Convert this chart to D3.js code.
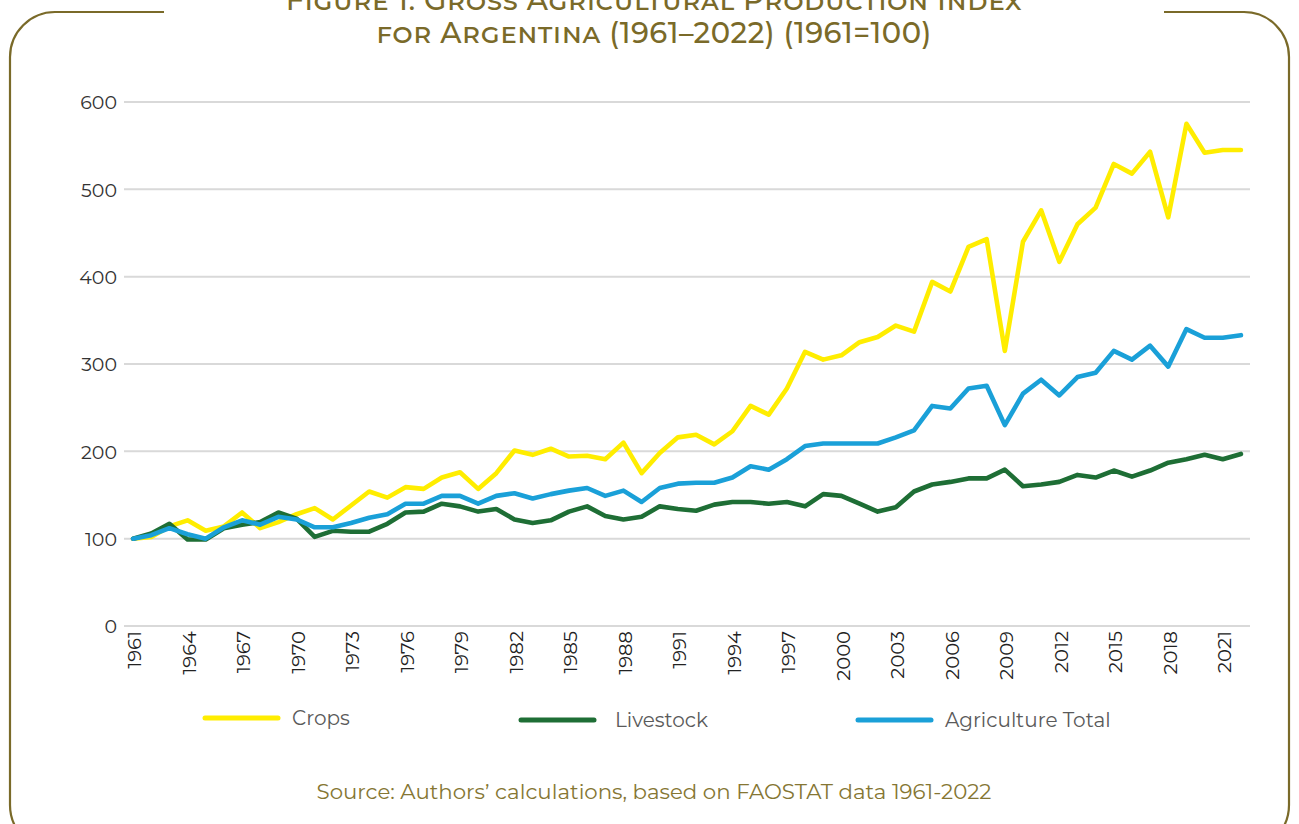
<!DOCTYPE html>
<html>
<head>
<meta charset="utf-8">
<script src="https://cdn.jsdelivr.net/npm/d3@7"></script>
<style>
  html, body { margin: 0; padding: 0; background: #ffffff; }
  svg { display: block; }
</style>
</head>
<body>
<svg id="chart" width="1299" height="824"></svg>
<script>
// Gross Agricultural Production Index, Argentina, 1961=100
const years = d3.range(1961, 2023);

const crops = [
  100, 102, 114, 121, 109, 114, 130, 112, 119, 128,
  135, 122, 138, 154, 147, 159, 157, 170, 176, 157,
  175, 201, 196, 203, 194, 195, 191, 210, 175, 198,
  216, 219, 208, 223, 252, 242, 272, 314, 305, 310,
  325, 331, 344, 337, 394, 383, 434, 443, 315, 440,
  476, 417, 460, 479, 529, 518, 543, 468, 575, 542,
  545, 545
];

const livestock = [
  100, 106, 117, 99, 99, 112, 116, 119, 130, 123,
  102, 109, 108, 108, 117, 130, 131, 140, 137, 131,
  134, 122, 118, 121, 131, 137, 126, 122, 125, 137,
  134, 132, 139, 142, 142, 140, 142, 137, 151, 149,
  140, 131, 136, 154, 162, 165, 169, 169, 179, 160,
  162, 165, 173, 170, 178, 171, 178, 187, 191, 196,
  191, 197
];

const agriTotal = [
  100, 104, 112, 105, 100, 113, 121, 116, 125, 122,
  113, 113, 118, 124, 128, 140, 140, 149, 149, 140,
  149, 152, 146, 151, 155, 158, 149, 155, 142, 158,
  163, 164, 164, 170, 183, 179, 191, 206, 209, 209,
  209, 209, 216, 224, 252, 249, 272, 275, 230, 266,
  282, 264, 285, 290, 315, 305, 321, 297, 340, 330,
  330, 333
];

const yTicks = [0, 100, 200, 300, 400, 500, 600];
const xTickYears = d3.range(1961, 2023, 3);

const seriesNames = ["Crops", "Livestock", "Agriculture Total"];
const seriesColors = ["#ffed00", "#1e6e35", "#1aa0d8"];

const titleLines = [
  "Figure 1. Gross Agricultural Production Index",
  "for Argentina (1961–2022) (1961=100)"
];
const sourceText = "Source: Authors’ calculations, based on FAOSTAT data 1961-2022";

const olive = "#7a6a29";
const font = "Montserrat, 'Open Sans', 'Noto Sans', sans-serif";

const svg = d3.select("#chart");

// Rounded frame around the figure, open at the top for the title
svg.append("rect")
  .attr("x", 10).attr("y", 12)
  .attr("width", 1279).attr("height", 838)
  .attr("rx", 45).attr("ry", 45)
  .attr("fill", "none")
  .attr("stroke", olive)
  .attr("stroke-width", 2.2);

svg.append("rect")
  .attr("x", 164).attr("y", 0)
  .attr("width", 1000).attr("height", 30)
  .attr("fill", "#ffffff");

// Title
const title = svg.append("text")
  .attr("text-anchor", "middle")
  .attr("fill", olive)
  .style("font-family", font)
  .style("font-size", "29px")
  .style("font-weight", 500)
  .style("font-variant", "small-caps")
  .style("letter-spacing", "0.5px");
title.append("tspan").attr("x", 654).attr("y", 10).text(titleLines[0]);
title.append("tspan").attr("x", 654).attr("y", 43).text(titleLines[1]);

// Scales
const x = d3.scalePoint()
  .domain(years)
  .range([124, 1250])
  .padding(0.5);

const y = d3.scaleLinear()
  .domain([0, 600])
  .range([626, 102]);

// Horizontal gridlines
svg.append("g")
  .selectAll("line")
  .data(yTicks)
  .join("line")
  .attr("x1", 124).attr("x2", 1250)
  .attr("y1", d => y(d)).attr("y2", d => y(d))
  .attr("stroke", "#d9d9d9")
  .attr("stroke-width", 2);

// Y axis labels
const yAxis = d3.axisLeft(y).tickValues(yTicks).tickSize(0).tickPadding(0);
const gy = svg.append("g")
  .attr("transform", "translate(117,0)")
  .call(yAxis);
gy.select(".domain").remove();
gy.selectAll("text")
  .attr("fill", "#333333")
  .style("font-family", font)
  .style("font-size", "19px")
  .attr("dy", "0.36em");

// X axis labels, rotated
const xAxis = d3.axisBottom(x).tickValues(xTickYears).tickSize(0).tickPadding(0);
const gx = svg.append("g")
  .attr("transform", "translate(0,631)")
  .call(xAxis);
gx.select(".domain").remove();
gx.selectAll("text")
  .attr("fill", "#222222")
  .style("font-family", font)
  .style("font-size", "19.5px")
  .attr("text-anchor", "end")
  .attr("transform", "rotate(-90)")
  .attr("x", 0)
  .attr("y", 0)
  .attr("dx", 0)
  .attr("dy", "0.4em");

// Lines
const seriesData = [crops, livestock, agriTotal];
const line = d3.line()
  .x((d, i) => x(years[i]))
  .y(d => y(d));

svg.append("g")
  .selectAll("path")
  .data(seriesData)
  .join("path")
  .attr("d", d => line(d))
  .attr("fill", "none")
  .attr("stroke", (d, i) => seriesColors[i])
  .attr("stroke-width", 4.6)
  .attr("stroke-linejoin", "round")
  .attr("stroke-linecap", "round");

// Legend
const legendX = [205, 521, 858];
const legendY = [718, 720, 720];
const legend = svg.append("g");
seriesNames.forEach((name, i) => {
  legend.append("line")
    .attr("x1", legendX[i]).attr("x2", legendX[i] + 73)
    .attr("y1", legendY[i]).attr("y2", legendY[i])
    .attr("stroke", seriesColors[i])
    .attr("stroke-width", 5)
    .attr("stroke-linecap", "round");
  legend.append("text")
    .attr("x", legendX[i] + 87 + (i === 1 ? 7 : 0))
    .attr("y", legendY[i])
    .attr("dy", "0.35em")
    .attr("fill", "#5a5a5a")
    .style("font-family", font)
    .style("font-size", "20px")
    .text(name);
});

// Source note
svg.append("text")
  .attr("x", 654).attr("y", 792)
  .attr("dy", "0.35em")
  .attr("text-anchor", "middle")
  .attr("fill", "#857633")
  .style("font-family", font)
  .style("font-size", "21.3px")
  .text(sourceText);
</script>
</body>
</html>
